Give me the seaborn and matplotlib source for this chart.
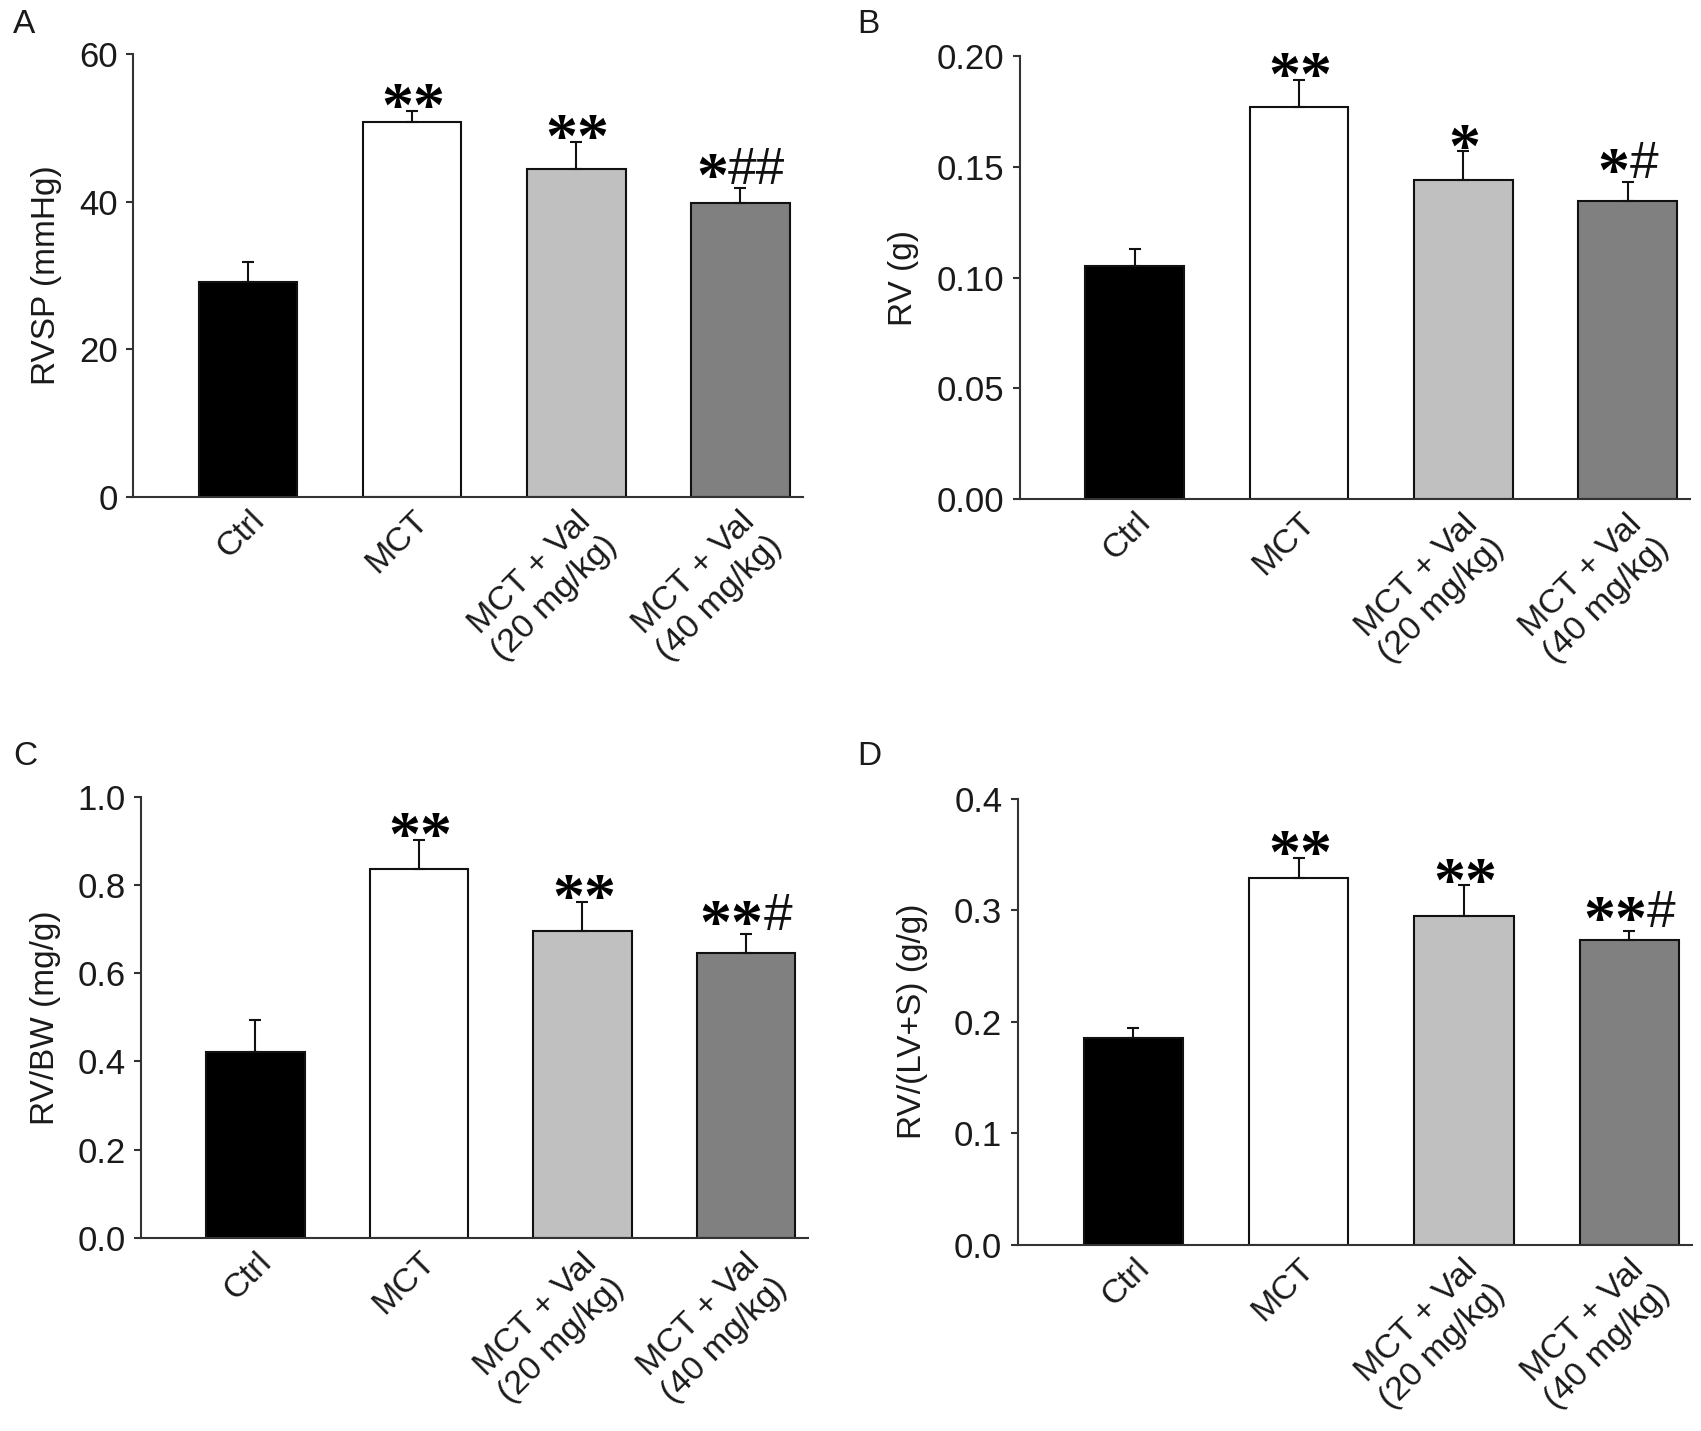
import matplotlib
matplotlib.use("Agg")
import matplotlib.pyplot as plt
import seaborn as sns
import pandas as pd
from matplotlib.textpath import TextPath
from matplotlib.font_manager import FontProperties

# groups and values
groups = ['Ctrl', 'MCT', 'MCT + Val\n(20 mg/kg)', 'MCT + Val\n(40 mg/kg)']
bar_colors = ['#000000', '#ffffff', '#c0c0c0', '#808080']

rvsp_mean = [29.1, 50.8, 44.4, 39.8]
rvsp_err = [2.7, 1.5, 3.7, 2.1]
rvsp_marks = ['', '**', '**', '*##']

rv_mean = [0.105, 0.177, 0.144, 0.1345]
rv_err = [0.008, 0.0125, 0.013, 0.0085]
rv_marks = ['', '**', '*', '*#']

rvbw_mean = [0.422, 0.836, 0.696, 0.646]
rvbw_err = [0.071, 0.066, 0.066, 0.042]
rvbw_marks = ['', '**', '**', '**#']

fulton_mean = [0.185, 0.329, 0.295, 0.273]
fulton_err = [0.0096, 0.018, 0.0275, 0.0084]
fulton_marks = ['', '**', '**', '**#']

sns.set_style('ticks')
plt.rcParams['font.family'] = ['Liberation Sans', 'DejaVu Sans']
txt = '#1a1a1a'

# fonts for the significance marks
star_fp = FontProperties(family='Liberation Serif', weight='bold', size=46)
hash_fp = FontProperties(family='Liberation Sans', size=37)


def path_ext(s, fp):
    return TextPath((0, 0), s, prop=fp).get_extents()


star_y0 = path_ext('*', star_fp).y0
hash_y0 = path_ext('#', hash_fp).y0


def add_marks(ax, x, y, mark):
    stars = mark.rstrip('#')
    hashes = mark[len(stars):]
    ws = path_ext(stars, star_fp).x1 if stars else 0
    wh = path_ext(hashes, hash_fp).x1 if hashes else 0
    total = ws + wh + (2 if stars and hashes else 0)
    left = -total / 2
    lift = 5 if hashes else 0
    if stars:
        ax.annotate(stars, (x, y), xytext=(left, -star_y0 + 2 + lift), textcoords='offset points',
                    ha='left', va='baseline', fontproperties=star_fp, color='#000000')
    if hashes:
        ax.annotate(hashes, (x, y), xytext=(left + total - wh, -hash_y0 + 3),
                    textcoords='offset points', ha='left', va='baseline',
                    fontproperties=hash_fp, color='#111111')


fig = plt.figure(figsize=(17.01, 14.31), dpi=100)

panels = [
    ('A', [0.0784, 0.653, 0.3935, 0.309], rvsp_mean, rvsp_err, rvsp_marks,
     'RVSP (mmHg)', [0, 20, 40, 60], '{:.0f}', -0.106),
    ('B', [0.5995, 0.6515, 0.3941, 0.3091], rv_mean, rv_err, rv_marks,
     'RV (g)', [0, 0.05, 0.10, 0.15, 0.20], '{:.2f}', -0.151),
    ('C', [0.0829, 0.1349, 0.3922, 0.3083], rvbw_mean, rvbw_err, rvbw_marks,
     'RV/BW (mg/g)', [0, 0.2, 0.4, 0.6, 0.8, 1.0], '{:.1f}', -0.12),
    ('D', [0.5982, 0.1303, 0.3966, 0.3114], fulton_mean, fulton_err, fulton_marks,
     'RV/(LV+S) (g/g)', [0, 0.1, 0.2, 0.3, 0.4], '{:.1f}', -0.132),
]
letter_pos = {'A': (0.0076, 0.994), 'B': (0.504, 0.994), 'C': (0.0076, 0.482), 'D': (0.504, 0.482)}

for letter, rect, mean, err, marks, ylab, yticks, fmt, labx in panels:
    ax = fig.add_axes(rect)
    df = pd.DataFrame({'group': groups, 'value': mean})
    sns.barplot(data=df, x='group', y='value', hue='group', palette=bar_colors,
                width=0.6, edgecolor='#111111', linewidth=1.5, legend=False, ax=ax)
    ax.errorbar(range(len(groups)), mean, yerr=[[0] * len(err), err], fmt='none',
                ecolor='#111111', elinewidth=1.5, capsize=4, capthick=1.5, zorder=3)
    for i, m in enumerate(marks):
        if m:
            add_marks(ax, i, mean[i] + err[i], m)
    ax.set_xlim(-0.7, 3.38)
    ax.set_ylim(0, yticks[-1])
    ax.set_yticks(yticks)
    ax.set_yticklabels([fmt.format(t) for t in yticks])
    ax.set_xlabel('')
    ax.set_ylabel(ylab, fontsize=24, color=txt)
    ax.yaxis.set_label_coords(labx, 0.5)
    ax.tick_params(axis='y', labelsize=25, length=5, width=1.5, pad=6, colors='#333333', labelcolor=txt)
    ax.tick_params(axis='x', length=0, pad=6, labelsize=24.5, labelcolor=txt)
    for lab in ax.get_xticklabels():
        lab.set_rotation(45)
        lab.set_ha('right')
        lab.set_va('top')
        lab.set_rotation_mode('anchor')
        lab.set_multialignment('center')
    sns.despine(ax=ax)
    for side in ['left', 'bottom']:
        ax.spines[side].set_linewidth(1.5)
        ax.spines[side].set_color('#333333')
    fig.text(*letter_pos[letter], letter, fontsize=24, color=txt, ha='left', va='top')

fig.savefig('out.png', dpi=100)
